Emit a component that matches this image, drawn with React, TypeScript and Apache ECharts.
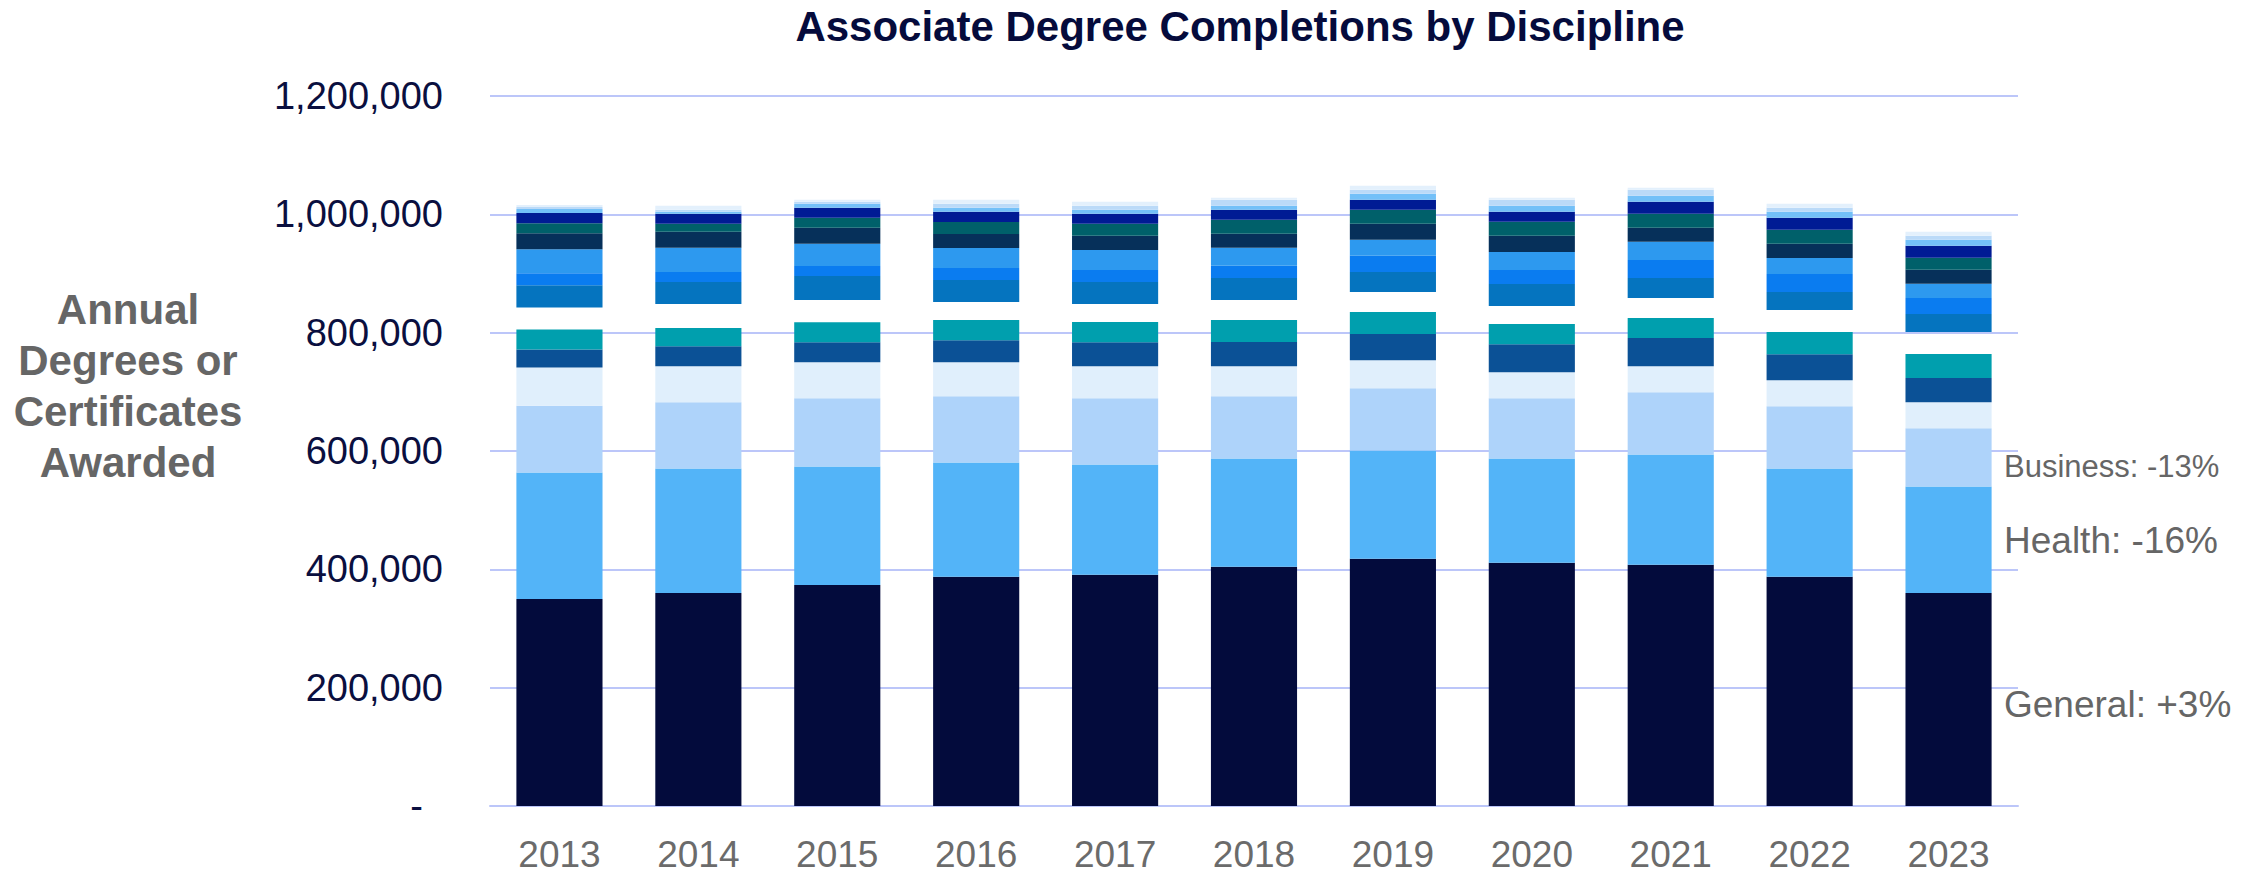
import React, { useEffect, useRef } from "react";
import * as echarts from "echarts";

const years = ["2013", "2014", "2015", "2016", "2017", "2018", "2019", "2020", "2021", "2022", "2023"];
const yTicks = [0, 200000, 400000, 600000, 800000, 1000000, 1200000];

const general = [350000, 360200, 373700, 387300, 390700, 404300, 417800, 411000, 407600, 387300, 360200];
const health = [213600, 210200, 200000, 193200, 186500, 183100, 183100, 176300, 186500, 183100, 179700];
const business = [113000, 111900, 115300, 111900, 111900, 105100, 105100, 101700, 105100, 105100, 98500];
const disc4 = [64400, 61000, 61000, 57600, 54200, 50900, 47500, 44100, 44100, 44100, 44100];
const disc5 = [30500, 33900, 33900, 37300, 40700, 40700, 44100, 47500, 47500, 44100, 40700];
const disc6 = [33900, 30500, 33900, 33900, 33900, 37300, 37300, 33900, 33900, 37300, 40700];
const spacer = [37300, 40700, 37300, 30500, 30500, 33900, 33900, 30500, 33900, 37300, 37300];
const disc8 = [37300, 37300, 40700, 37300, 37300, 37300, 33900, 37300, 33900, 30500, 30500];
const disc9 = [20300, 17000, 17000, 20300, 20300, 20300, 27100, 23700, 30500, 30500, 27100];
const disc10 = [40700, 40700, 37300, 33900, 33900, 30500, 27100, 30500, 30500, 27100, 23700];
const disc11 = [27100, 27100, 27100, 23700, 23700, 23700, 27100, 27100, 23700, 23700, 23700];
const disc12 = [17000, 13600, 17000, 20300, 20300, 23700, 23700, 23700, 23700, 23700, 20300];
const disc13 = [17000, 17000, 17000, 17000, 17000, 17000, 17000, 17000, 20300, 20300, 20300];
const disc14 = [6800, 3400, 6800, 6800, 6800, 6800, 10200, 10200, 10200, 10200, 10200];
const disc15 = [3400, 3400, 3400, 6800, 6800, 10200, 6800, 10200, 10200, 6800, 6800];
const disc16 = [3400, 6800, 3400, 6800, 6800, 3400, 6800, 3400, 3400, 6800, 6800];

const seriesDefs: { name: string; data: number[]; color: string }[] = [
  { name: "General", data: general, color: "#030B3C" },
  { name: "Health", data: health, color: "#53B4F8" },
  { name: "Business", data: business, color: "#AED3FA" },
  { name: "Discipline 4", data: disc4, color: "#E0EFFC" },
  { name: "Discipline 5", data: disc5, color: "#0B5196" },
  { name: "Discipline 6", data: disc6, color: "#009FAE" },
  { name: "Spacer", data: spacer, color: "rgba(255,255,255,0)" },
  { name: "Discipline 8", data: disc8, color: "#0574BF" },
  { name: "Discipline 9", data: disc9, color: "#0A7CF0" },
  { name: "Discipline 10", data: disc10, color: "#2D99EF" },
  { name: "Discipline 11", data: disc11, color: "#06305A" },
  { name: "Discipline 12", data: disc12, color: "#00606A" },
  { name: "Discipline 13", data: disc13, color: "#001B94" },
  { name: "Discipline 14", data: disc14, color: "#73C0F8" },
  { name: "Discipline 15", data: disc15, color: "#BBDAF8" },
  { name: "Discipline 16", data: disc16, color: "#E3F0FC" },
];

const FONT = '"Liberation Sans", Arial, Helvetica, sans-serif';
const GRID = "#BCC6F9";

export default function App() {
  const ref = useRef<HTMLDivElement>(null);
  useEffect(() => {
    if (!ref.current) return;
    const chart = echarts.init(ref.current, null, { renderer: "svg" });
    chart.setOption({
      animation: false,
      backgroundColor: "#ffffff",
      grid: { left: 490, right: 235, top: 96, bottom: 69, containLabel: false },
      xAxis: {
        type: "category",
        data: years,
        axisTick: { show: false },
        axisLine: { show: true, lineStyle: { color: GRID, width: 2 } },
        axisLabel: {
          color: "#6B6B6B",
          fontSize: 37,
          lineHeight: 37,
          fontFamily: FONT,
          margin: 30,
        },
      },
      yAxis: {
        type: "value",
        min: yTicks[0],
        max: yTicks[yTicks.length - 1],
        interval: 200000,
        axisLine: { show: false },
        axisTick: { show: false },
        splitLine: { show: true, lineStyle: { color: GRID, width: 2 } },
        axisLabel: {
          color: "#0A0F3F",
          fontSize: 38,
          fontFamily: FONT,
          margin: 47,
          formatter: (v: number) => (v === 0 ? "{d|-}" : v.toLocaleString("en-US")),
          rich: {
            d: { fontSize: 38, fontFamily: FONT, color: "#0A0F3F", padding: [0, 20, 0, 0] },
          },
        },
      },
      series: seriesDefs.map((s) => ({
        name: s.name,
        type: "bar",
        stack: "total",
        data: s.data,
        barCategoryGap: "38%",
        itemStyle: { color: s.color },
        emphasis: { disabled: true },
      })),
      graphic: [
        {
          type: "text",
          x: 1240,
          y: 26,
          style: {
            text: "Associate Degree Completions by Discipline",
            font: `bold 42px ${FONT}`,
            fill: "#050B3C",
            textAlign: "center",
            textVerticalAlign: "middle",
            align: "center",
            verticalAlign: "middle",
          },
        },
        {
          type: "text",
          x: 128,
          y: 386,
          style: {
            text: "Annual\nDegrees or\nCertificates\nAwarded",
            font: `bold 42px ${FONT}`,
            lineHeight: 51,
            fill: "#666666",
            textAlign: "center",
            textVerticalAlign: "middle",
            align: "center",
            verticalAlign: "middle",
          },
        },
        {
          type: "text",
          x: 2004,
          y: 466,
          style: {
            text: "Business: -13%",
            font: `31px ${FONT}`,
            fill: "#666666",
            textAlign: "left",
            textVerticalAlign: "middle",
            align: "left",
            verticalAlign: "middle",
          },
        },
        {
          type: "text",
          x: 2004,
          y: 540,
          style: {
            text: "Health: -16%",
            font: `37px ${FONT}`,
            fill: "#666666",
            textAlign: "left",
            textVerticalAlign: "middle",
            align: "left",
            verticalAlign: "middle",
          },
        },
        {
          type: "text",
          x: 2004,
          y: 704,
          style: {
            text: "General: +3%",
            font: `37px ${FONT}`,
            fill: "#666666",
            textAlign: "left",
            textVerticalAlign: "middle",
            align: "left",
            verticalAlign: "middle",
          },
        },
      ],
    });
    return () => chart.dispose();
  }, []);
  return (
    <div
      ref={ref}
      style={{ position: "absolute", left: 0, top: 0, width: 2253, height: 875 }}
    />
  );
}
